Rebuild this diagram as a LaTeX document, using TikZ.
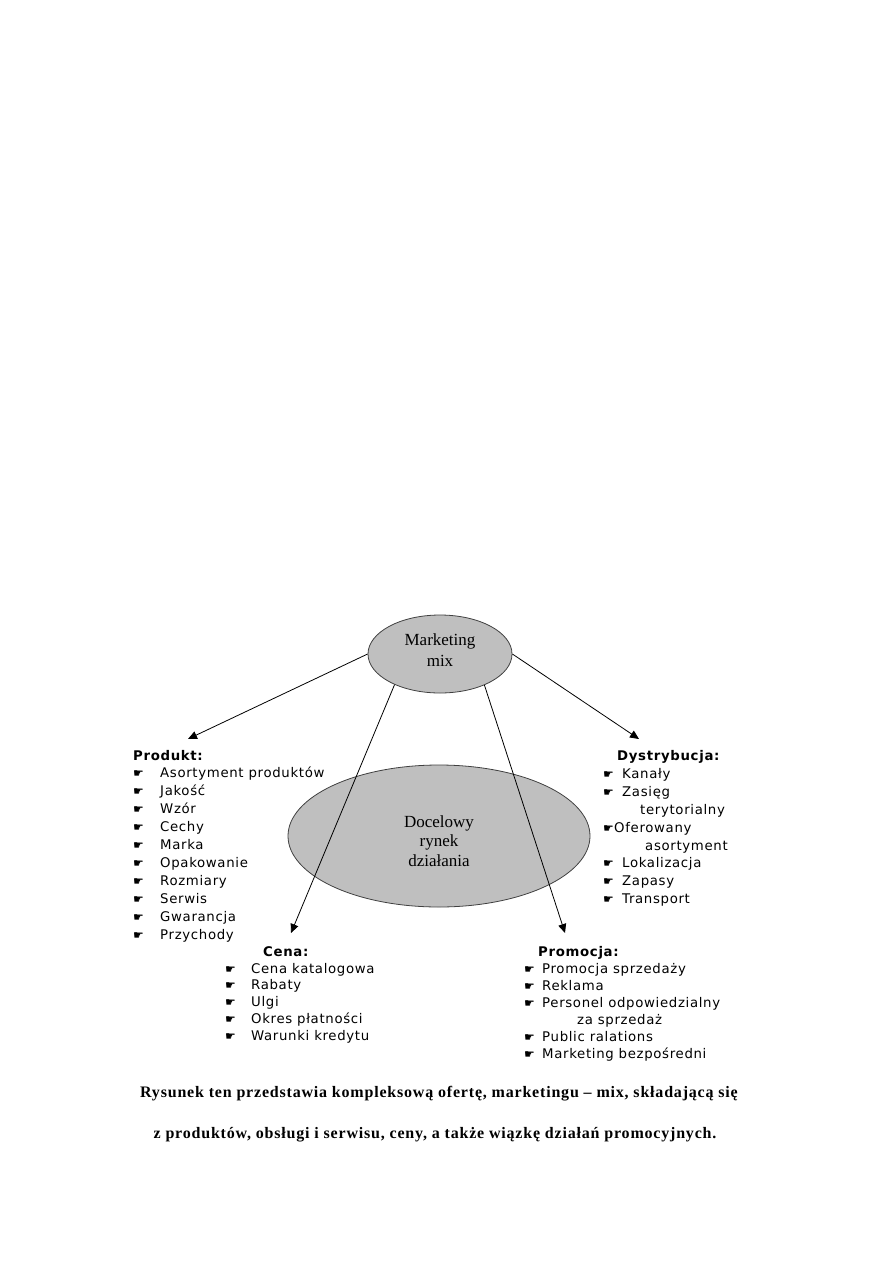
\documentclass[tikz,border=0pt]{standalone}
\usepackage{fontspec}
\setmainfont{Liberation Serif}
\newfontfamily\vd[LetterSpace=5]{DejaVu Sans}
\newfontfamily\handfont{DejaVu Sans}
\newfontfamily\capfont[LetterSpace=5]{Liberation Serif}
\usetikzlibrary{shapes.geometric,arrows.meta}
\begin{document}
\begin{tikzpicture}[x=1pt,y=-1pt,
  oval/.style={ellipse, draw=black!75, fill=black!25, line width=0.8pt, inner sep=0pt, align=center, font=\fontsize{17}{20}\selectfont},
  conn/.style={draw=black, line width=0.8pt, -{Triangle[length=9pt,width=8pt]}},
  lbl/.style={anchor=base west, inner sep=0pt, font=\vd\fontsize{13.3}{17}\selectfont},
  head/.style={anchor=base west, inner sep=0pt, font=\vd\bfseries\fontsize{13.3}{17}\selectfont},
  bul/.style={anchor=base west, inner sep=0pt, font=\handfont\fontsize{12}{12}\selectfont},
  captxt/.style={anchor=base, inner sep=0pt, font=\capfont\bfseries\fontsize{16}{20}\selectfont}]
\useasboundingbox (0,0) rectangle (893,1263);

% ellipses
\node[oval, minimum width=302, minimum height=142] (rynek) at (439,836) {};
\node[anchor=base, inner sep=0pt, align=center, font=\fontsize{17}{19.5}\selectfont] (rynektxt) at (439,866) {Docelowy\\rynek\\działania};
\node[oval, minimum width=144, minimum height=78] (mm) at (440,654) {};
\node[anchor=base, inner sep=0pt, align=center, font=\fontsize{17}{21}\selectfont] (mmtxt) at (440,666) {Marketing\\mix};

% arrow targets
\coordinate (tP) at (188,739);
\coordinate (tD) at (639,739);
\coordinate (tC) at (291,933);
\coordinate (tR) at (565,933);

\draw[conn] (mm.west) -- (tP);
\draw[conn] (mm.east) -- (tD);
\draw[conn] (mm.214) -- (tC);
\draw[conn] (mm.325) -- (tR);

% Produkt
\node[head] (ph) at (133,760) {Produkt:};
\foreach \t [count=\i from 0] in {Asortyment produktów,Jakość,Wzór,Cechy,Marka,Opakowanie,Rozmiary,Serwis,Gwarancja,Przychody}{
  \node[bul] (pb\i) at (133,777+18*\i) {☛};
  \node[lbl] (pt\i) at (160,777+18*\i) {\t};
}

% Dystrybucja
\node[head] (dh) at (617,760) {Dystrybucja:};
\node[bul] (db0) at (603,778) {☛};
\node[lbl] (dt0) at (622,778) {Kanały};
\node[bul] (db1) at (603,796) {☛};
\node[lbl] (dt1) at (622,796) {Zasięg};
\node[lbl] (dt1b) at (640,814) {terytorialny};
\node[bul] (db2) at (603,832) {☛};
\node[lbl] (dt2) at (614,832) {Oferowany};
\node[lbl] (dt2b) at (645,850) {asortyment};
\node[bul] (db3) at (603,867) {☛};
\node[lbl] (dt3) at (622,867) {Lokalizacja};
\node[bul] (db4) at (603,885) {☛};
\node[lbl] (dt4) at (622,885) {Zapasy};
\node[bul] (db5) at (603,903) {☛};
\node[lbl] (dt5) at (622,903) {Transport};

% Cena
\node[head] (ch) at (263,956) {Cena:};
\foreach \t [count=\i from 0] in {Cena katalogowa,Rabaty,Ulgi,Okres płatności,Warunki kredytu}{
  \node[bul] (cb\i) at (225,973+16.8*\i) {☛};
  \node[lbl] (ct\i) at (251,973+16.8*\i) {\t};
}

% Promocja
\node[head] (rh) at (538,956) {Promocja:};
\node[bul] (rb0) at (524,973) {☛};
\node[lbl] (rt0) at (542,973) {Promocja sprzedaży};
\node[bul] (rb1) at (524,990) {☛};
\node[lbl] (rt1) at (542,990) {Reklama};
\node[bul] (rb2) at (524,1007) {☛};
\node[lbl] (rt2) at (542,1007) {Personel odpowiedzialny};
\node[lbl] (rt2b) at (577,1024) {za sprzedaż};
\node[bul] (rb3) at (524,1041) {☛};
\node[lbl] (rt3) at (542,1041) {Public ralations};
\node[bul] (rb4) at (524,1058) {☛};
\node[lbl] (rt4) at (542,1058) {Marketing bezpośredni};

% caption
\node[captxt] (cap1) at (439,1097) {Rysunek ten przedstawia kompleksową ofertę, marketingu – mix, składającą się};
\node[captxt] (cap2) at (435,1138) {z produktów, obsługi i serwisu, ceny, a także wiązkę działań promocyjnych.};
\end{tikzpicture}
\end{document}
